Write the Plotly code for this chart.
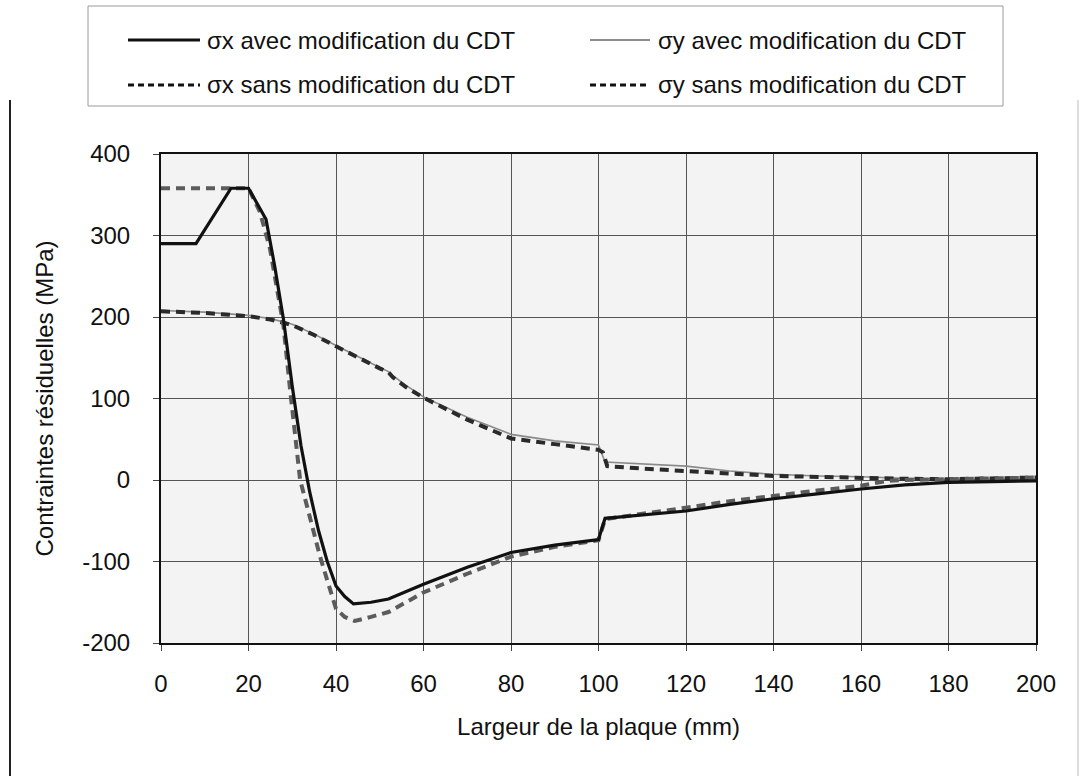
import plotly.graph_objects as go

# Residual stress profiles across the plate width (mm -> MPa)
x_sx_avec = [0, 8, 16, 20, 24, 26, 28, 30, 32, 34, 36, 38, 40, 42, 44, 48, 52, 56, 60, 70, 80, 90, 100, 101.5,
             110, 120, 130, 140, 150, 160, 170, 180, 190, 200]
sx_avec = [290, 290, 358, 358, 320, 262, 197, 115, 42, -15, -62, -100, -130, -143, -152, -150, -146, -137, -128,
           -107, -89, -80, -73, -47, -43, -38, -30, -23, -17, -11, -6, -3, -2, -1]

x_sx_sans = [0, 20, 22.6, 24.9, 26.8, 28, 29.5, 31.8, 34, 36.3, 38, 40, 42, 44.3, 48, 52, 56, 60, 70, 80, 90, 100,
             101.5, 110, 120, 130, 140, 150, 160, 166, 170, 180, 190, 200]
sx_sans = [358, 358, 329, 284, 226, 189, 111, 0, -45, -93, -123, -158, -168, -173, -168, -162, -150, -138, -115,
           -94, -82, -74, -48, -42, -34, -26, -19, -13, -7, -1, 0, 1, 2, 3]

x_sy_avec = [0, 10, 20, 25, 30, 35, 40, 45, 50, 52, 53, 56, 60, 70, 80, 90, 100, 101.5, 110, 120, 130, 140, 150,
             160, 170, 180, 190, 200]
sy_avec = [208, 206, 202, 198, 191, 179, 165, 151, 138, 133, 128, 116, 102, 77, 56, 48, 43, 22, 20, 17, 11, 7, 5,
           4, 2, 1, 1, 1]

x_sy_sans = [0, 10, 20, 25, 30, 35, 40, 45, 50, 52, 53, 56, 60, 70, 80, 90, 100, 101, 102, 110, 120, 130, 140, 150,
             160, 170, 180, 190, 200]
sy_sans = [207, 205, 201, 197, 190, 178, 164, 150, 137, 132, 126, 114, 101, 74, 51, 44, 37, 34, 17, 14, 11.5, 8,
           5, 3.5, 2.5, 1.5, 1, 1.5, 3]

x_ticks = list(range(0, 201, 20))
y_ticks = list(range(-200, 401, 100))
y_ticktext = [str(v) for v in y_ticks]

labels = ["σx avec modification du CDT", "σy avec modification du CDT",
          "σx sans modification du CDT", "σy sans modification du CDT"]

styles = [
    dict(color="#111111", width=3.2, dash="solid"),
    dict(color="#8a8a8a", width=1.6, dash="solid"),
    dict(color="#5c5c5c", width=4, dash="9px,6px"),
    dict(color="#2a2a2a", width=4, dash="9px,6px"),
]

series = [(x_sy_avec, sy_avec, 1), (x_sy_sans, sy_sans, 3), (x_sx_sans, sx_sans, 2), (x_sx_avec, sx_avec, 0)]

fig = go.Figure()
for xs, ys, k in series:
    fig.add_trace(go.Scatter(x=xs, y=ys, mode="lines", name=labels[k], line=styles[k],
                             showlegend=False))

W, H = 1080, 776
L, R, T, B = 161, 1036, 154, 643
FONT = "Liberation Sans, Arial"


def px(x):
    return (x - L) / (R - L)


def py(y):
    return (B - y) / (B - T)


shapes = []
annotations = []

# legend frame
shapes.append(dict(type="rect", xref="paper", yref="paper", x0=px(88), x1=px(1003), y0=py(106), y1=py(6),
                   line=dict(color="#9a9a9a", width=1), fillcolor="white", layer="below"))

legend_pos = [(128, 200, 205, 40), (590, 650, 656, 40), (128, 200, 205, 85), (590, 650, 656, 85)]
for k, (a, b, t, yy) in enumerate(legend_pos):
    st = styles[k]
    w = st["width"] if k != 1 else 1.4
    shapes.append(dict(type="line", xref="paper", yref="paper", x0=px(a), x1=px(b), y0=py(yy), y1=py(yy),
                       line=dict(color="#111111" if k != 1 else "#666666", width=min(w, 3),
                                 dash="6px,4px" if k >= 2 else "solid")))
    annotations.append(dict(xref="paper", yref="paper", x=px(t), y=py(yy), text=labels[k], showarrow=False,
                            xanchor="left", yanchor="middle",
                            font=dict(family=FONT, size=24, color="#111111")))

# outer figure frame
shapes.append(dict(type="line", xref="paper", yref="paper", x0=px(10), x1=px(10), y0=py(776), y1=py(100),
                   line=dict(color="#222222", width=2)))
shapes.append(dict(type="line", xref="paper", yref="paper", x0=px(1078), x1=px(1078), y0=py(776), y1=py(100),
                   line=dict(color="#bbbbbb", width=1)))

fig.update_layout(
    width=W, height=H,
    margin=dict(l=L, r=W - R, t=T, b=H - B, pad=0),
    paper_bgcolor="white",
    plot_bgcolor="#f3f3f3",
    font=dict(family=FONT, size=24, color="#111111"),
    shapes=shapes,
    annotations=annotations,
    showlegend=False,
)

fig.update_xaxes(
    range=[0, 200], tickvals=x_ticks, ticks="outside", ticklen=6, tickcolor="#444",
    ticklabelstandoff=12,
    showgrid=True, gridcolor="#555555", gridwidth=0.8,
    showline=True, linecolor="#111111", linewidth=2, mirror=True, zeroline=False,
    title=dict(text="Largeur de la plaque (mm)", font=dict(size=24), standoff=22),
    tickfont=dict(size=24),
)
fig.update_yaxes(
    range=[-200, 400], tickvals=y_ticks, ticktext=y_ticktext, ticks="outside", ticklen=6, tickcolor="#444",
    ticklabelstandoff=18,
    showgrid=True, gridcolor="#555555", gridwidth=0.8,
    showline=True, linecolor="#111111", linewidth=2, mirror=True, zeroline=False,
    title=dict(text="Contraintes résiduelles (MPa)", font=dict(size=24), standoff=22),
    tickfont=dict(size=24),
)

fig.write_html("out.html")
